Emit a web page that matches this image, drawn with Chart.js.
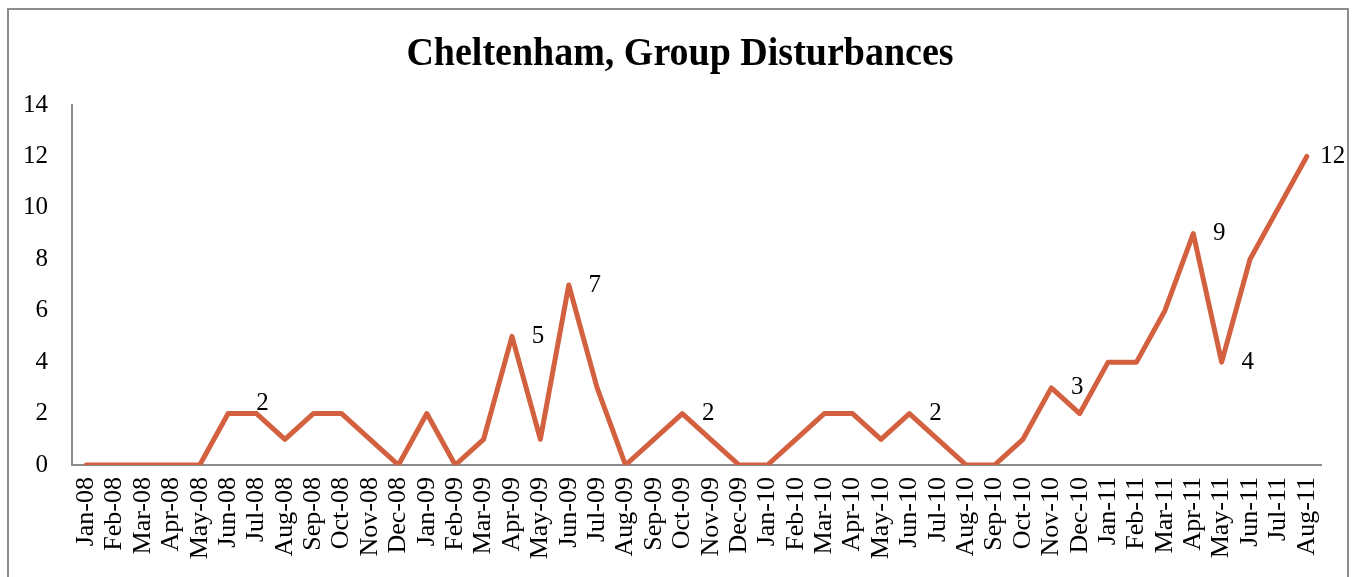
<!DOCTYPE html>
<html>
<head>
<meta charset="utf-8">
<title>Cheltenham, Group Disturbances</title>
<script src="https://cdn.jsdelivr.net/npm/chart.js@4.4.1/dist/chart.umd.min.js"></script>
<style>
  html, body { margin: 0; padding: 0; background: #fff; overflow: hidden; }
  #frame {
    position: absolute; left: 7px; top: 8px;
    width: 1342px; height: 620px;
    border: 2px solid #8c8c8c; box-sizing: border-box;
  }
  #chart { position: absolute; left: 0; top: 0; }
</style>
</head>
<body>
<div id="frame"></div>
<canvas id="chart" width="1354" height="577"></canvas>
<script>
  // Months Jan-08 .. Aug-11
  const months = [
    "Jan-08", "Feb-08", "Mar-08", "Apr-08", "May-08", "Jun-08", "Jul-08", "Aug-08",
    "Sep-08", "Oct-08", "Nov-08", "Dec-08", "Jan-09", "Feb-09", "Mar-09", "Apr-09",
    "May-09", "Jun-09", "Jul-09", "Aug-09", "Sep-09", "Oct-09", "Nov-09", "Dec-09",
    "Jan-10", "Feb-10", "Mar-10", "Apr-10", "May-10", "Jun-10", "Jul-10", "Aug-10",
    "Sep-10", "Oct-10", "Nov-10", "Dec-10", "Jan-11", "Feb-11", "Mar-11", "Apr-11",
    "May-11", "Jun-11", "Jul-11", "Aug-11"
  ];

  // Group disturbances per month
  const disturbances = [
    0, 0, 0, 0, 0, 2, 2, 1,
    2, 2, 1, 0, 2, 0, 1, 5,
    1, 7, 3, 0, 1, 2, 1, 0,
    0, 1, 2, 2, 1, 2, 1, 0,
    0, 1, 3, 2, 4, 4, 6, 9,
    4, 8, 10, 12
  ];

  // months that carry a value label, and where the label sits
  const labelledMonths = ["Jul-08", "Apr-09", "Jun-09", "Oct-09", "Jun-10", "Nov-10", "Apr-11", "May-11", "Aug-11"];
  const labelSides = ["above", "right", "right", "right", "right", "right", "right", "right", "right"];

  const yTicks = [0, 2, 4, 6, 8, 10, 12, 14];

  const chartTitle = "Cheltenham, Group Disturbances";
  const serif = "'Liberation Serif', 'Times New Roman', serif";

  // plugin: title centred on the page (the plot area is not centred)
  const pageTitle = {
    id: "pageTitle",
    afterDraw(chart) {
      const ctx = chart.ctx;
      ctx.save();
      ctx.fillStyle = "#000";
      ctx.font = "bold 38px " + serif;
      ctx.textAlign = "center";
      ctx.textBaseline = "alphabetic";
      ctx.translate(chart.width / 2 + 3, 65);
      ctx.scale(1, 1.08);
      ctx.fillText(chartTitle, 0, 0);
      ctx.restore();
    }
  };

  // plugin: draw the value labels next to the line
  const valueLabels = {
    id: "valueLabels",
    afterDatasetsDraw(chart) {
      const ctx = chart.ctx;
      const xs = chart.scales.x;
      const ys = chart.scales.y;
      ctx.save();
      ctx.fillStyle = "#000";
      ctx.font = "25px " + serif;
      ctx.textBaseline = "middle";
      ctx.textAlign = "center";
      labelledMonths.forEach(function (m, i) {
        const idx = months.indexOf(m);
        const v = disturbances[idx];
        const px = xs.getPixelForValue(idx);
        const py = ys.getPixelForValue(v);
        if (labelSides[i] === "above") {
          ctx.fillText(String(v), px + 6, py - 10);
        } else {
          ctx.fillText(String(v), px + 26, py);
        }
      });
      ctx.restore();
    }
  };

  new Chart(document.getElementById("chart"), {
    type: "line",
    data: {
      labels: months,
      datasets: [{
        label: "Group Disturbances",
        data: disturbances,
        borderColor: "#D3613F",
        backgroundColor: "#D3613F",
        borderWidth: 5,
        borderJoinStyle: "round",
        borderCapStyle: "round",
        pointRadius: 0,
        tension: 0
      }]
    },
    options: {
      responsive: false,
      animation: false,
      layout: { padding: { left: 0, right: 33, top: 105, bottom: 0 } },
      plugins: {
        legend: { display: false },
        tooltip: { enabled: false },
        title: { display: false }
      },
      scales: {
        x: {
          offset: true,
          grid: { display: false, drawTicks: false },
          border: { display: true, color: "#8c8c8c", width: 2 },
          ticks: {
            color: "#000",
            font: { family: serif, size: 26 },
            minRotation: 90,
            maxRotation: 90,
            autoSkip: false,
            padding: 12
          },
          afterFit: function (scale) { scale.height = 112; }
        },
        y: {
          min: 0,
          max: 14,
          grid: { display: false, drawTicks: false },
          border: { display: true, color: "#8c8c8c", width: 2 },
          afterBuildTicks: function (scale) {
            scale.ticks = yTicks.map(function (v) { return { value: v }; });
          },
          ticks: {
            color: "#000",
            font: { family: serif, size: 25 },
            padding: 24
          },
          afterFit: function (scale) { scale.width = 72; }
        }
      }
    },
    plugins: [valueLabels, pageTitle]
  });
</script>
</body>
</html>
